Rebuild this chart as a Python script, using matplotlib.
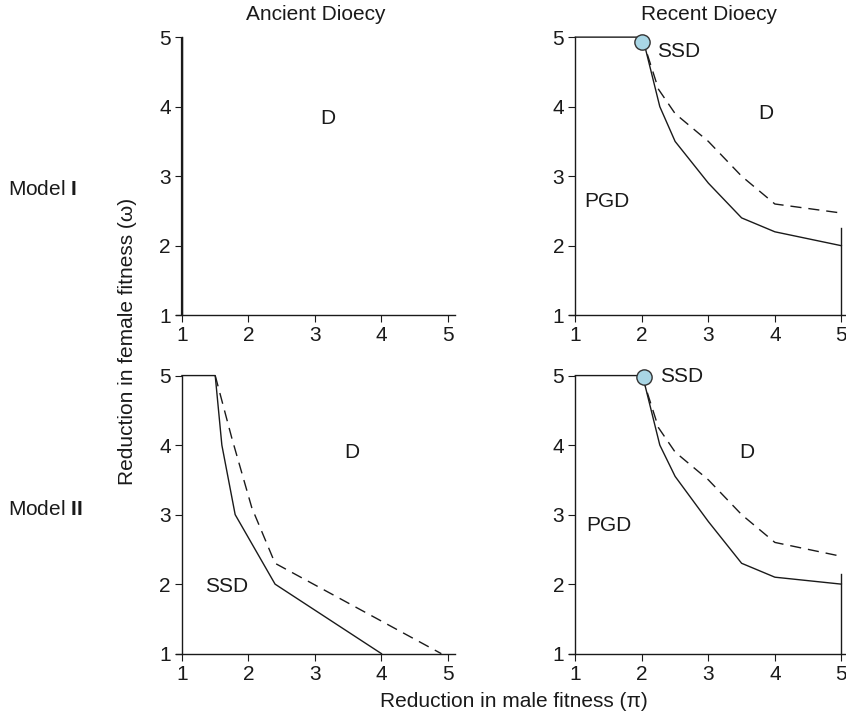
import matplotlib.pyplot as plt

plt.rcParams['font.family'] = ['Liberation Sans', 'DejaVu Sans']
plt.rcParams['mathtext.fontset'] = 'custom'
plt.rcParams['mathtext.bf'] = 'Liberation Sans:bold'
plt.rcParams['mathtext.rm'] = 'Liberation Sans'

# column titles and row labels
col_titles = ["Ancient Dioecy", "Recent Dioecy"]
row_labels = [r"Model $\mathbf{I}$", r"Model $\mathbf{II}$"]

# Model I, recent dioecy
m1r_solid_x = [1, 2, 2.05, 2.27, 2.5, 3.0, 3.5, 4.0, 5.0]
m1r_solid_y = [5, 5, 4.85, 4.0, 3.5, 2.9, 2.4, 2.2, 2.0]
m1r_dash_x = [2.0, 2.25, 2.5, 3.0, 3.5, 4.0, 5.0]
m1r_dash_y = [5.0, 4.25, 3.9, 3.5, 3.0, 2.6, 2.47]
m1r_edge_y = [1.0, 2.25]

# Model II, ancient dioecy
m2a_solid_x = [1, 1.5, 1.6, 1.8, 2.4, 4.0]
m2a_solid_y = [5, 5, 4.0, 3.0, 2.0, 1.0]
m2a_dash_x = [1.5, 1.75, 2.05, 2.4, 4.9]
m2a_dash_y = [5.0, 4.1, 3.1, 2.3, 1.0]

# Model II, recent dioecy
m2r_solid_x = [1, 2, 2.05, 2.27, 2.5, 3.0, 3.5, 4.0, 5.0]
m2r_solid_y = [5, 5, 4.85, 4.0, 3.55, 2.9, 2.3, 2.1, 2.0]
m2r_dash_x = [2.0, 2.25, 2.5, 3.0, 3.5, 4.0, 5.0]
m2r_dash_y = [5.0, 4.25, 3.9, 3.5, 3.0, 2.6, 2.4]
m2r_edge_y = [1.0, 2.15]

# region labels: (text, x, y)
labels_m1a = [("D", 3.2, 3.83)]
labels_m1r = [("SSD", 2.55, 4.8), ("D", 3.86, 3.9), ("PGD", 1.47, 2.63)]
labels_m2a = [("D", 3.55, 3.9), ("SSD", 1.67, 1.97)]
labels_m2r = [("SSD", 2.6, 4.98), ("D", 3.58, 3.9), ("PGD", 1.5, 2.85)]

ticks = [1, 2, 3, 4, 5]
ink = "#1a1a1a"
fs = 15

fig = plt.figure(figsize=(8.46, 7.14), dpi=100)
x0 = [0.208, 0.673]
y0 = [0.5585, 0.0845]
w, h = 0.3294, 0.3895

axes = {}
for r in range(2):
    for c in range(2):
        ax = fig.add_axes([x0[c], y0[r], w, h])
        ax.set_xlim(0.91, 5.1)
        ax.set_ylim(1, 5)
        ax.spines['top'].set_visible(False)
        ax.spines['right'].set_visible(False)
        ax.spines['left'].set_position(('data', 1))
        for s in ['left', 'bottom']:
            ax.spines[s].set_linewidth(1.0)
            ax.spines[s].set_color(ink)
        ax.set_xticks(ticks)
        ax.set_yticks(ticks)
        ax.tick_params(direction='out', length=5, width=0.8, colors=ink,
                       labelsize=fs, pad=3)
        ax.patch.set_alpha(0)
        axes[(r, c)] = ax

for c in range(2):
    axes[(0, c)].set_title(col_titles[c], fontsize=fs, color=ink, pad=12)

row_y = [0.734, 0.287]
for r in range(2):
    fig.text(0.01, row_y[r], row_labels[r], fontsize=fs, color=ink,
             va='center', ha='left')

line_kw = dict(color=ink, lw=1.0, clip_on=False)
dash_kw = dict(color=ink, lw=1.0, dashes=(8, 5), clip_on=False)

# top left
ax = axes[(0, 0)]
ax.plot([1, 1], [1, 5], color=ink, lw=1.6)

# top right
ax = axes[(0, 1)]
ax.plot(m1r_solid_x, m1r_solid_y, **line_kw)
ax.plot(m1r_dash_x, m1r_dash_y, **dash_kw)
ax.plot([5, 5], m1r_edge_y, **line_kw)
ax.plot([2.0], [4.93], 'o', ms=11, mfc='#a9d6e5', mec='#333333', mew=1.0,
        zorder=5, clip_on=False)

# bottom left
ax = axes[(1, 0)]
ax.plot(m2a_solid_x, m2a_solid_y, **line_kw)
ax.plot(m2a_dash_x, m2a_dash_y, **dash_kw)

# bottom right
ax = axes[(1, 1)]
ax.plot(m2r_solid_x, m2r_solid_y, **line_kw)
ax.plot(m2r_dash_x, m2r_dash_y, **dash_kw)
ax.plot([5, 5], m2r_edge_y, **line_kw)
ax.plot([2.03], [4.98], 'o', ms=11, mfc='#a9d6e5', mec='#333333', mew=1.0,
        zorder=5, clip_on=False)

for key, labs in [((0, 0), labels_m1a), ((0, 1), labels_m1r),
                  ((1, 0), labels_m2a), ((1, 1), labels_m2r)]:
    for t, x, y in labs:
        axes[key].text(x, y, t, fontsize=fs, color=ink, ha='center',
                       va='center')

fig.text(0.151, 0.522, "Reduction in female fitness (\u03c9)", rotation=90,
         fontsize=fs, color=ink, ha='center', va='center')
fig.text(0.607, 0.017, "Reduction in male fitness (\u03c0)", fontsize=fs,
         color=ink, ha='center', va='center')

fig.savefig("out.png", dpi=100)
